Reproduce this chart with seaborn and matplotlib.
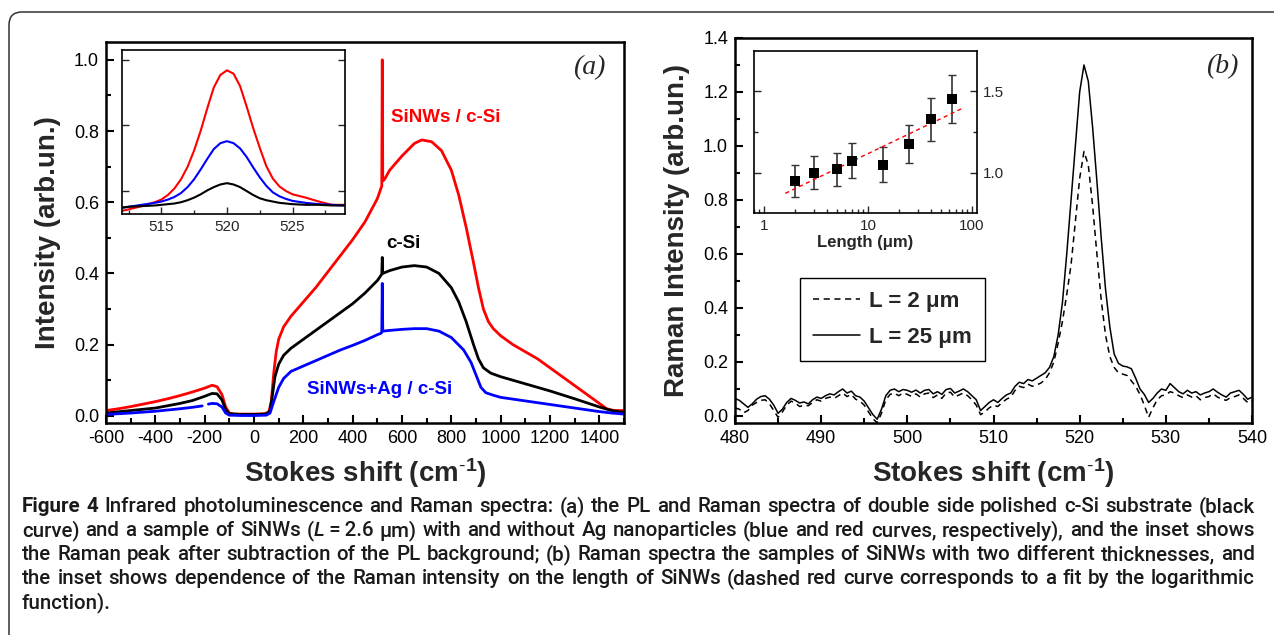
import numpy as np
import pandas as pd
import matplotlib
matplotlib.use("Agg")
import matplotlib.pyplot as plt
import seaborn as sns
from matplotlib.patches import FancyBboxPatch
from matplotlib.transforms import IdentityTransform
from matplotlib.ticker import MultipleLocator, FixedLocator, LogLocator, NullFormatter

# ---------------- data: panel (a) PL spectra ----------------
red_x = [-600, -550, -500, -450, -400, -350, -300, -250, -200, -170, -150, -130, -115, -100, -80, -50, 0, 40, 60, 70, 80, 90,
         100, 120, 150, 200, 250, 300, 350, 400, 450, 500, 515, 518, 520, 522, 530, 550, 600, 650, 680, 720, 760, 800,
         830, 860, 890, 910, 930, 950, 970, 1000, 1050, 1100, 1150, 1200, 1250, 1300, 1350, 1400, 1430, 1460, 1500]
red_y = [0.015, 0.020, 0.026, 0.033, 0.040, 0.048, 0.057, 0.067, 0.078, 0.086, 0.082, 0.060, 0.025, 0.008, 0.005, 0.005, 0.005,
         0.006, 0.010, 0.040, 0.120, 0.180, 0.215, 0.250, 0.280, 0.320, 0.360, 0.405, 0.450, 0.495, 0.545, 0.610, 0.640,
         0.645, 1.000, 0.660, 0.665, 0.690, 0.730, 0.765, 0.775, 0.770, 0.745, 0.690, 0.620, 0.530, 0.430, 0.360, 0.300,
         0.265, 0.245, 0.225, 0.200, 0.180, 0.160, 0.135, 0.110, 0.085, 0.060, 0.035, 0.020, 0.015, 0.015]

black_x = [-600, -500, -400, -300, -250, -200, -170, -150, -130, -115, -100, -50, 0, 50, 65, 75, 85, 100, 120, 150, 200, 250,
           300, 350, 400, 450, 500, 515, 518, 520, 522, 550, 600, 650, 700, 750, 800, 830, 860, 890, 910, 930, 960, 1000,
           1100, 1200, 1300, 1400, 1450, 1500]
black_y = [0.008, 0.015, 0.022, 0.035, 0.043, 0.055, 0.063, 0.062, 0.045, 0.018, 0.006, 0.004, 0.004, 0.005, 0.015, 0.060,
           0.110, 0.145, 0.170, 0.190, 0.215, 0.240, 0.265, 0.290, 0.315, 0.345, 0.380, 0.395, 0.398, 0.445, 0.400, 0.408,
           0.418, 0.422, 0.418, 0.400, 0.360, 0.320, 0.265, 0.200, 0.160, 0.135, 0.120, 0.110, 0.090, 0.070, 0.048, 0.025,
           0.015, 0.010]

blue_x = [-600, -500, -400, -300, -250, -210, -200, -185, -170, -150, -130, -115, -100, -50, 0, 50, 65, 80, 100, 120, 150,
          200, 250, 300, 350, 400, 450, 500, 515, 518, 520, 522, 550, 600, 650, 700, 750, 800, 850, 880, 900, 920, 940,
          970, 1000, 1100, 1200, 1300, 1400, 1450, 1500]
blue_y = [0.004, 0.008, 0.013, 0.020, 0.024, 0.028, np.nan, 0.033, 0.035, 0.034, 0.025, 0.008, 0.002, 0.001, 0.001, 0.002,
          0.008, 0.040, 0.080, 0.105, 0.125, 0.140, 0.155, 0.170, 0.185, 0.198, 0.212, 0.228, 0.232, 0.235, 0.372, 0.238,
          0.240, 0.243, 0.245, 0.245, 0.238, 0.220, 0.185, 0.150, 0.115, 0.080, 0.065, 0.058, 0.052, 0.042, 0.032, 0.022,
          0.012, 0.008, 0.005]

# inset (a): Raman peak after background subtraction
inset_a_x = [511.6, 512.5, 513.5, 514.5, 515.0, 515.5, 516.0, 516.5, 517.0, 517.5, 518.0, 518.5, 519.0, 519.5, 520.0,
             520.5, 521.0, 521.5, 522.0, 522.5, 523.0, 523.5, 524.0, 524.5, 525.0, 526.0, 527.0, 528.0, 528.9]
inset_a_red = [0.068, 0.072, 0.077, 0.083, 0.087, 0.094, 0.104, 0.118, 0.137, 0.162, 0.192, 0.226, 0.258, 0.277, 0.284,
               0.279, 0.260, 0.229, 0.196, 0.166, 0.138, 0.119, 0.107, 0.100, 0.095, 0.090, 0.084, 0.079, 0.079]
inset_a_blue = [0.073, 0.076, 0.079, 0.082, 0.084, 0.087, 0.091, 0.097, 0.106, 0.118, 0.133, 0.149, 0.164, 0.173, 0.176,
                0.173, 0.165, 0.152, 0.136, 0.121, 0.108, 0.098, 0.092, 0.088, 0.085, 0.082, 0.080, 0.079, 0.078]
inset_a_black = [0.074, 0.076, 0.077, 0.078, 0.079, 0.080, 0.081, 0.083, 0.086, 0.090, 0.095, 0.101, 0.106, 0.110, 0.112,
                 0.110, 0.106, 0.100, 0.094, 0.089, 0.086, 0.084, 0.082, 0.081, 0.080, 0.079, 0.079, 0.078, 0.078]

# ---------------- data: panel (b) Raman spectra ----------------
raman_shift = np.arange(480.0, 540.01, 0.5)
raman_L25 = [0.065, 0.058, 0.045, 0.032, 0.045, 0.062, 0.072, 0.075, 0.062, 0.040, 0.010, 0.025, 0.050, 0.065, 0.058, 0.048,
             0.052, 0.045, 0.060, 0.070, 0.065, 0.075, 0.082, 0.078, 0.090, 0.100, 0.085, 0.092, 0.075, 0.070, 0.055, 0.030,
             0.005, -0.012, 0.025, 0.075, 0.095, 0.100, 0.090, 0.098, 0.095, 0.088, 0.096, 0.085, 0.095, 0.098, 0.082, 0.090,
             0.080, 0.098, 0.102, 0.085, 0.092, 0.100, 0.090, 0.075, 0.060, 0.020, 0.035, 0.050, 0.060, 0.050, 0.065, 0.078,
             0.085, 0.110, 0.125, 0.120, 0.135, 0.130, 0.140, 0.150, 0.160, 0.180, 0.220, 0.300, 0.420, 0.600, 0.800, 1.000,
             1.200, 1.300, 1.240, 1.070, 0.870, 0.660, 0.470, 0.330, 0.230, 0.195, 0.185, 0.182, 0.175, 0.140, 0.100, 0.080,
             0.050, 0.065, 0.085, 0.100, 0.095, 0.120, 0.105, 0.090, 0.082, 0.095, 0.085, 0.090, 0.078, 0.085, 0.090, 0.100,
             0.088, 0.078, 0.070, 0.085, 0.090, 0.095, 0.080, 0.062, 0.070]
raman_L2 = [0.030, 0.025, 0.012, 0.020, 0.040, 0.050, 0.058, 0.060, 0.045, 0.020, -0.005, 0.015, 0.040, 0.055, 0.048, 0.035,
            0.040, 0.038, 0.050, 0.060, 0.055, 0.065, 0.070, 0.065, 0.075, 0.085, 0.072, 0.080, 0.062, 0.055, 0.040, 0.015,
            -0.010, -0.025, 0.010, 0.060, 0.080, 0.085, 0.075, 0.085, 0.080, 0.072, 0.082, 0.070, 0.082, 0.085, 0.068, 0.078,
            0.065, 0.085, 0.088, 0.070, 0.078, 0.085, 0.075, 0.060, 0.040, 0.005, 0.015, 0.030, 0.040, 0.035, 0.050, 0.062,
            0.070, 0.095, 0.110, 0.105, 0.118, 0.110, 0.115, 0.122, 0.135, 0.160, 0.200, 0.270, 0.350, 0.450, 0.560, 0.720,
            0.880, 0.980, 0.930, 0.780, 0.600, 0.430, 0.300, 0.220, 0.180, 0.160, 0.155, 0.150, 0.130, 0.110, 0.080, 0.040,
            -0.005, 0.030, 0.060, 0.075, 0.078, 0.090, 0.085, 0.075, 0.068, 0.078, 0.070, 0.075, 0.060, 0.068, 0.072, 0.082,
            0.070, 0.062, 0.058, 0.068, 0.072, 0.078, 0.065, 0.050, 0.058]

# inset (b): Raman intensity vs SiNW length
length_um = [2, 3, 5, 7, 14, 25, 40, 64]
raman_ratio = [0.951, 1.002, 1.023, 1.075, 1.050, 1.177, 1.327, 1.453]
ratio_err = [0.095, 0.100, 0.100, 0.106, 0.106, 0.116, 0.133, 0.146]
fit_x = [1.6, 82.0]
fit_y = [0.876, 1.396]

legend_labels = ["L = 2 \u03bcm", "L = 25 \u03bcm"]

caption_runs = [
    [("Figure 4", "bold", "normal"),
     (" Infrared photoluminescence and Raman spectra: (a) the PL and Raman spectra of double side polished c-Si substrate (black", "medium", "normal")],
    [("curve) and a sample of SiNWs (", "medium", "normal"), ("L", "medium", "italic"),
     ("\u2009=\u20092.6 \u03bcm) with and without Ag nanoparticles (blue and red curves, respectively), and the inset shows", "medium", "normal")],
    [("the Raman peak after subtraction of the PL background; (b) Raman spectra the samples of SiNWs with two different thicknesses, and", "medium", "normal")],
    [("the inset shows dependence of the Raman intensity on the length of SiNWs (dashed red curve corresponds to a fit by the logarithmic", "medium", "normal")],
    [("function).", "medium", "normal")],
]

# ---------------- style ----------------
sns.set_theme(style="ticks")
plt.rcParams["font.family"] = ["Liberation Sans", "DejaVu Sans"]
plt.rcParams["axes.unicode_minus"] = False
plt.rcParams["mathtext.fontset"] = "custom"
plt.rcParams["mathtext.rm"] = "Liberation Sans"
plt.rcParams["mathtext.bf"] = "Liberation Sans:bold"
plt.rcParams["mathtext.it"] = "Liberation Sans:italic"

W, H = 1274, 635
fig = plt.figure(figsize=(W / 100, H / 100), dpi=100)
fig.patch.set_facecolor("white")


def rect(x0, y0, x1, y1):
    return [x0 / W, 1 - y1 / H, (x1 - x0) / W, (y1 - y0) / H]


axA = fig.add_axes(rect(106, 42, 624, 423))
axB = fig.add_axes(rect(735, 38, 1252, 423))
insA = fig.add_axes(rect(122, 50, 345, 214))
insB = fig.add_axes(rect(754, 51, 977, 213))

for ax in (axA, axB, insA, insB):
    ax.set_facecolor("white")
    for s in ax.spines.values():
        s.set_color("black")
    ax.grid(False)

for ax in (axA, axB):
    for s in ax.spines.values():
        s.set_linewidth(1.8)
    ax.tick_params(which="both", direction="in", colors="black", labelsize=13, width=1.5,
                   top=False, right=False, pad=5)
    ax.tick_params(which="major", length=6)
    ax.tick_params(which="minor", length=3.5)

# ---------------- panel (a) ----------------
lw_main = 2.0
sns.lineplot(x=red_x, y=red_y, ax=axA, color="#ff0000", linewidth=lw_main, estimator=None, sort=False)
sns.lineplot(x=black_x, y=black_y, ax=axA, color="black", linewidth=lw_main, estimator=None, sort=False)
bx = np.array(blue_x, dtype=float)
by = np.array(blue_y, dtype=float)
gap = np.where(np.isnan(by))[0]
start = 0
for g in list(gap) + [len(by)]:
    if g - start > 1:
        sns.lineplot(x=bx[start:g], y=by[start:g], ax=axA, color="#0000ff", linewidth=lw_main,
                     estimator=None, sort=False)
    start = g + 1

axA.set_xlim(-600, 1500)
axA.set_ylim(-0.02, 1.05)
axA.xaxis.set_major_locator(MultipleLocator(200))
axA.xaxis.set_minor_locator(MultipleLocator(100))
axA.yaxis.set_major_locator(MultipleLocator(0.2))
axA.yaxis.set_minor_locator(MultipleLocator(0.1))
axA.yaxis.set_major_formatter(matplotlib.ticker.FormatStrFormatter("%.1f"))
xlab = r"Stokes shift (cm$^{\mathbf{\text{-}1}}$)"
axA.set_xlabel(xlab, fontsize=20, fontweight="bold", labelpad=7)
axA.set_ylabel("Intensity (arb.un.)", fontsize=20, fontweight="bold", labelpad=9)

axA.text(777, 0.837, "SiNWs / c-Si", color="#ff0000", fontsize=13.5, fontweight="bold", ha="center", va="center")
axA.text(604, 0.484, "c-Si", color="black", fontsize=13.5, fontweight="bold", ha="center", va="center")
axA.text(511, 0.074, "SiNWs+Ag / c-Si", color="#0000ff", fontsize=13.5, fontweight="bold", ha="center", va="center")
axA.text(1359, 0.978, "(a)", fontsize=20, fontstyle="italic", family=["Liberation Serif"], ha="center", va="center")

# inset (a)
lw_in = 1.5
sns.lineplot(x=inset_a_x, y=inset_a_red, ax=insA, color="#ff0000", linewidth=lw_in, estimator=None, sort=False)
sns.lineplot(x=inset_a_x, y=inset_a_blue, ax=insA, color="#0000ff", linewidth=lw_in, estimator=None, sort=False)
sns.lineplot(x=inset_a_x, y=inset_a_black, ax=insA, color="black", linewidth=lw_in, estimator=None, sort=False)
insA.set_xlim(512, 529)
insA.set_ylim(0.065, 0.315)
insA.xaxis.set_major_locator(FixedLocator([515, 520, 525]))
insA.xaxis.set_minor_locator(MultipleLocator(2.5))
insA.yaxis.set_major_locator(FixedLocator([0.1, 0.2, 0.3]))
insA.set_yticklabels([])
insA.set_xlabel("")
insA.set_ylabel("")
for s in insA.spines.values():
    s.set_linewidth(1.2)
insA.tick_params(which="both", direction="in", labelsize=11, width=1.0, top=False, right=True, left=True,
                 bottom=True, labelleft=False, pad=4)
insA.tick_params(which="major", length=5)
insA.tick_params(which="minor", length=3)

# ---------------- panel (b) ----------------
sns.lineplot(x=raman_shift, y=raman_L2, ax=axB, color="black", linewidth=1.1, estimator=None, sort=False,
             label=legend_labels[0])
axB.lines[-1].set_linestyle((0, (4, 3)))
sns.lineplot(x=raman_shift, y=raman_L25, ax=axB, color="black", linewidth=1.1, estimator=None, sort=False,
             label=legend_labels[1])
axB.set_xlim(480, 540)
axB.set_ylim(-0.026, 1.4)
axB.xaxis.set_major_locator(MultipleLocator(10))
axB.xaxis.set_minor_locator(MultipleLocator(5))
axB.yaxis.set_major_locator(MultipleLocator(0.2))
axB.yaxis.set_minor_locator(MultipleLocator(0.1))
axB.yaxis.set_major_formatter(matplotlib.ticker.FormatStrFormatter("%.1f"))
axB.set_xlabel(xlab, fontsize=20, fontweight="bold", labelpad=7)
axB.set_ylabel("Raman Intensity (arb.un.)", fontsize=20, fontweight="bold", labelpad=9)
axB.text(536.5, 1.295, "(b)", fontsize=20, fontstyle="italic", family=["Liberation Serif"], ha="center", va="center")

leg = axB.legend(loc="upper left", bbox_to_anchor=(0.1257, 0.377), frameon=True, fancybox=False,
                 edgecolor="black", framealpha=1, prop={"weight": "bold", "size": 16},
                 handlelength=2.1, borderpad=0.6, labelspacing=0.65, handletextpad=0.4, borderaxespad=0)
leg.get_frame().set_linewidth(1.0)
leg.legend_handles[0].set_linestyle((0, (4, 3)))

# inset (b)
insB.errorbar(length_um, raman_ratio, yerr=ratio_err, fmt="none", ecolor="#333333", elinewidth=1.2,
              capsize=3, capthick=1.0, zorder=2)
sns.lineplot(x=fit_x, y=fit_y, ax=insB, color="#ff0000", linewidth=1.0, estimator=None, sort=False)
insB.lines[-1].set_linestyle((0, (3, 2.5)))
sns.scatterplot(x=length_um, y=raman_ratio, ax=insB, marker="s", s=50, color="black", edgecolor="black",
                linewidth=0, zorder=3)
insB.set_xscale("log")
insB.set_xlim(0.8, 112)
insB.set_ylim(0.756, 1.744)
insB.xaxis.set_major_locator(FixedLocator([1, 10, 100]))
insB.set_xticklabels(["1", "10", "100"])
insB.xaxis.set_minor_locator(LogLocator(base=10, subs=np.arange(2, 10)))
insB.xaxis.set_minor_formatter(NullFormatter())
insB.yaxis.set_major_locator(FixedLocator([1.0, 1.5]))
insB.yaxis.set_minor_locator(FixedLocator([1.25]))
insB.set_yticklabels(["1.0", "1.5"])
insB.set_ylabel("")
insB.set_xlabel("Length (\u03bcm)", fontsize=12, fontweight="bold", labelpad=2)
for s in insB.spines.values():
    s.set_linewidth(1.2)
insB.tick_params(which="both", direction="in", labelsize=11, width=1.0, top=False, left=True, right=True,
                 bottom=True, labelleft=False, labelright=True, pad=4)
insB.tick_params(which="major", length=5)
insB.tick_params(which="minor", length=3)

# ---------------- outer frame ----------------
frame = FancyBboxPatch((9, -60), 1400, 60 + H - 12, boxstyle="round,pad=0,rounding_size=13",
                       transform=IdentityTransform(), fill=False, linewidth=1.1, edgecolor="#333333")
fig.add_artist(frame)

# ---------------- caption (justified) ----------------
CAP_FAMILY = ["Roboto", "DejaVu Sans"]
fig.canvas.draw()
renderer = fig.canvas.get_renderer()


def measure(s, fs, weight, style):
    t = fig.text(0, 0, s, fontsize=fs, fontweight=weight, fontstyle=style, family=CAP_FAMILY)
    w = t.get_window_extent(renderer=renderer).width
    t.remove()
    return w


def words_of(runs):
    words = [[]]
    for text, wgt, sty in runs:
        parts = text.split(" ")
        for i, p in enumerate(parts):
            if i > 0:
                words.append([])
            if p:
                words[-1].append((p, wgt, sty))
    return [w for w in words if w]


x_left, x_right = 22, 1255
baselines = [512, 536, 560, 584, 608]
fs0 = 12.0
space0 = measure("n n", fs0, "medium", "normal") - measure("nn", fs0, "medium", "normal")
nat = []
for runs in caption_runs[:4]:
    ws = words_of(runs)
    tot = sum(measure(p, fs0, wg, st) for w in ws for (p, wg, st) in w) + space0 * (len(ws) - 1)
    nat.append(tot)
fs = fs0 * (x_right - x_left) / max(nat) * 0.99
space = measure("n n", fs, "medium", "normal") - measure("nn", fs, "medium", "normal")

for li, runs in enumerate(caption_runs):
    ws = words_of(runs)
    widths = [[measure(p, fs, wg, st) for (p, wg, st) in w] for w in ws]
    total = sum(sum(w) for w in widths)
    if li < 4 and len(ws) > 1:
        gap_w = (x_right - x_left - total) / (len(ws) - 1)
    else:
        gap_w = space
    x = x_left
    for w, wd in zip(ws, widths):
        for (p, wg, st), d in zip(w, wd):
            fig.text(x / W, 1 - baselines[li] / H, p, fontsize=fs, fontweight=wg, fontstyle=st,
                     family=CAP_FAMILY, ha="left", va="baseline", color="#1a1a1a")
            x += d
        x += gap_w

fig.savefig("out.png", dpi=100, facecolor="white")
